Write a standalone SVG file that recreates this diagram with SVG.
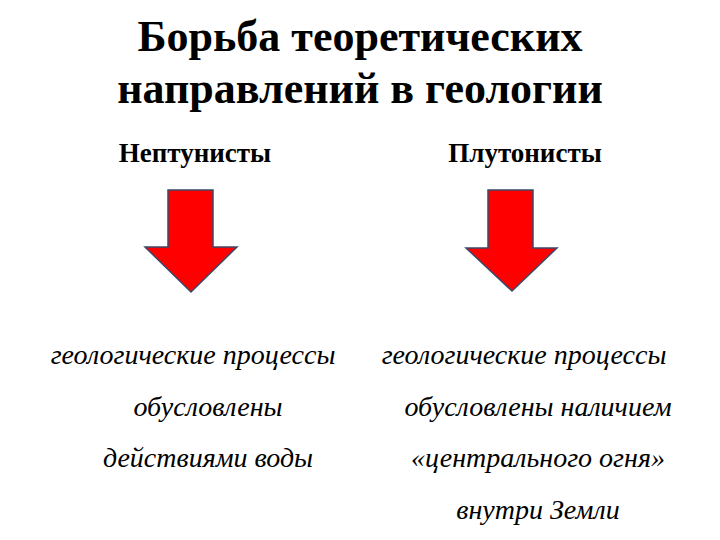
<svg xmlns="http://www.w3.org/2000/svg" width="720" height="540" viewBox="0 0 720 540">
<style>
.t{font-family:"Liberation Serif","Times New Roman",serif;font-weight:bold;font-size:44px;fill:#000;text-anchor:middle}
.h{font-family:"Liberation Serif","Times New Roman",serif;font-weight:bold;font-size:27px;fill:#000;text-anchor:middle}
.i{font-family:"Liberation Serif","Times New Roman",serif;font-style:italic;font-size:28px;fill:#000;text-anchor:middle}
.arr{fill:#ff0000;stroke:#3c4868;stroke-width:1.5;stroke-linejoin:miter}
</style>
<rect width="720" height="540" fill="#fff"/>
<g id="title">
<text class="t" x="360" y="51">Борьба теоретических</text>
<text class="t" x="360" y="103">направлений в геологии</text>
</g>
<g id="neptunists">
<text class="h" x="195" y="162">Нептунисты</text>
</g>
<g id="plutonists">
<text class="h" x="525" y="162">Плутонисты</text>
</g>
<g id="connectors">
<path class="arr" d="M168,190 H213 V247 H237 L191,292 L145,247 H168 Z"/>
<path class="arr" d="M488,190 H533 V248 H557 L512,291 L466,248 H488 Z"/>
</g>
<g id="neptunists-desc">
<text class="i" x="193" y="364">геологические процессы</text>
<text class="i" x="208" y="416">обусловлены</text>
<text class="i" x="208" y="467">действиями воды</text>
</g>
<g id="plutonists-desc">
<text class="i" x="524" y="364">геологические процессы</text>
<text class="i" x="538" y="416">обусловлены наличием</text>
<text class="i" x="538" y="467">«центрального огня»</text>
<text class="i" x="538" y="519">внутри Земли</text>
</g>
</svg>
